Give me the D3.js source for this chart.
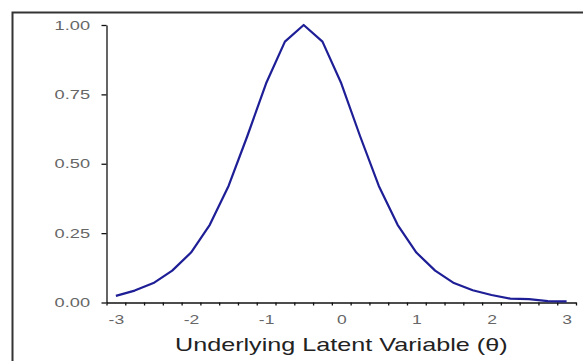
<!DOCTYPE html>
<html>
<head>
<meta charset="utf-8">
<script src="https://cdn.jsdelivr.net/npm/d3@7"></script>
<style>
  body { margin: 0; background: #fff; }
  text { font-family: "Liberation Sans", Arial, sans-serif; }
</style>
</head>
<body>
<div id="container"></div>
<script>
/* DATA */
const theta = [-3, -2.75, -2.5, -2.25, -2, -1.75, -1.5, -1.25, -1, -0.75, -0.5, -0.25,
  0, 0.25, 0.5, 0.75, 1, 1.25, 1.5, 1.75, 2, 2.25, 2.5, 2.75, 3];
const info = [0.024, 0.043, 0.07, 0.115, 0.18, 0.28, 0.42, 0.6, 0.79, 0.94, 1.0, 0.94,
  0.79, 0.6, 0.42, 0.28, 0.18, 0.115, 0.07, 0.044, 0.027, 0.014, 0.012, 0.005, 0.004];
const yTicks = [0, 0.25, 0.5, 0.75, 1];
const xLabels = [-3, -2, -1, 0, 1, 2, 3];
// tick marks sit between the theta categories
const xTickMarks = d3.range(26).map(i => -3.125 + i * 0.25);
const xTitle = "Underlying Latent Variable (\u03b8)";

/* CONSTANTS */
const width = 583, height = 361;
const stretch = 1.4; // text in the picture is drawn wide

const svg = d3.select("#container")
  .append("svg")
  .attr("width", width)
  .attr("height", height);

// outer frame (only left and top edges visible)
svg.append("path")
  .attr("d", `M12.5,${height} V12.5 H${width}`)
  .attr("fill", "none")
  .attr("stroke", "#333")
  .attr("stroke-width", 2);

/* SCALES */
const x = d3.scaleLinear().domain([-3.125, 3.125]).range([106.5, 576]);
const y = d3.scaleLinear().domain([0, 1]).range([302.5, 25]);

/* AXES */
const yAxis = svg.append("g")
  .attr("transform", `translate(${x(-3.125)},0)`)
  .call(d3.axisLeft(y).tickValues(yTicks).tickFormat(d3.format(".2f"))
    .tickSize(5).tickSizeOuter(0));

yAxis.select(".domain").attr("stroke", "#111").attr("stroke-width", 1.3);
yAxis.selectAll(".tick line").attr("stroke", "#111").attr("stroke-width", 1.3);
yAxis.selectAll(".tick text")
  .attr("x", -16.5 / stretch)
  .attr("transform", `scale(${stretch},1)`)
  .attr("fill", "#666")
  .style("font-size", "13px");

// tick marks
const xAxisMarks = svg.append("g")
  .attr("transform", `translate(0,${y(0)})`)
  .call(d3.axisBottom(x).tickValues(xTickMarks).tickFormat("")
    .tickSize(3).tickSizeOuter(0));
xAxisMarks.select(".domain").attr("stroke", "#111").attr("stroke-width", 1.3);
xAxisMarks.selectAll(".tick line").attr("stroke", "#111").attr("stroke-width", 1.3);

// labels at the integer categories
const xAxisLabels = svg.append("g")
  .attr("transform", `translate(0,${y(0)})`)
  .call(d3.axisBottom(x).tickValues(xLabels).tickFormat(d3.format("d"))
    .tickSize(0).tickPadding(13));
xAxisLabels.select(".domain").remove();
xAxisLabels.selectAll(".tick text")
  .attr("transform", `scale(${stretch},1)`)
  .attr("fill", "#666")
  .style("font-size", "12.5px")
  .text(d => d < 0 ? "-" + Math.abs(d) : d);

// axis title
svg.append("text")
  .attr("transform", `translate(${(x(-3.125) + x(3.125)) / 2},351) scale(${stretch},1)`)
  .attr("text-anchor", "middle")
  .attr("fill", "#222")
  .style("font-size", "18px")
  .text(xTitle);

/* LINE */
const line = d3.line()
  .x((d, i) => x(theta[i]))
  .y(d => y(d));

svg.append("path")
  .datum(info)
  .attr("d", line)
  .attr("fill", "none")
  .attr("stroke", "#1e1e96")
  .attr("stroke-width", 2.2)
  .attr("stroke-linejoin", "round");
</script>
</body>
</html>
